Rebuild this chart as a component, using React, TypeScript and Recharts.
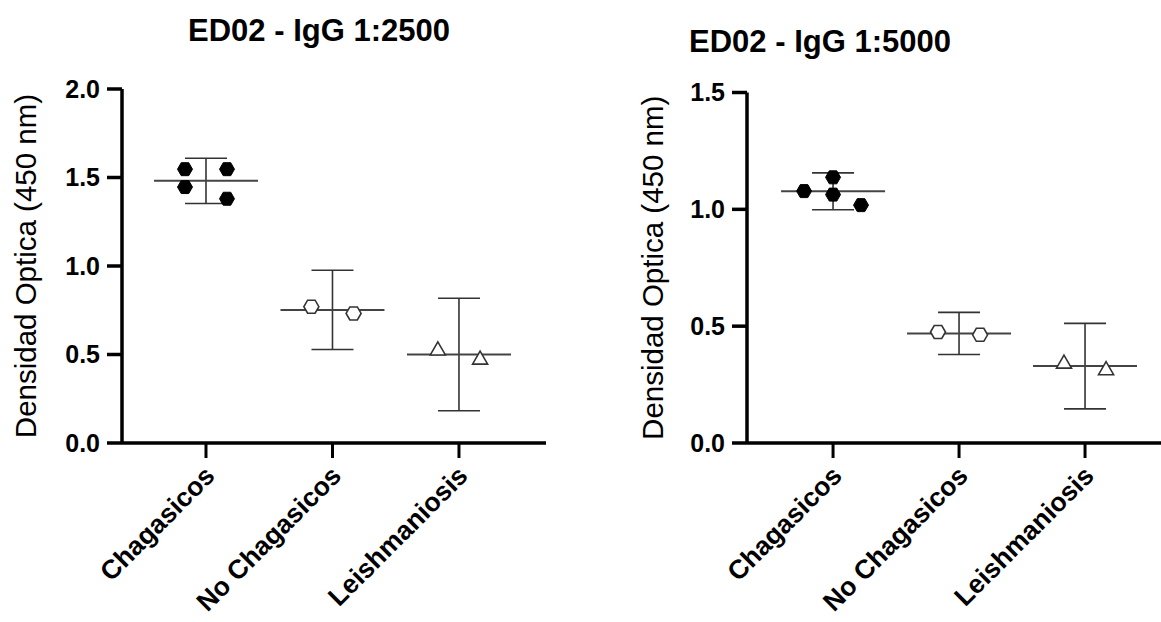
import React from 'react';
import { ScatterChart, Scatter, XAxis, YAxis, ErrorBar } from 'recharts';

const categories = ['Chagasicos', 'No Chagasicos', 'Leishmaniosis'];

// IgG 1:2500
const chagas2500 = [1.547, 1.446, 1.547, 1.38];
const chagas2500Jitter = [-0.166, -0.166, 0.166, 0.166];
const noChagas2500 = [0.77, 0.732];
const leish2500 = [0.522, 0.47];
const means2500 = [1.481, 0.752, 0.5];
const sd2500 = [0.128, 0.224, 0.318];
const ticks2500 = [0, 0.5, 1, 1.5, 2];

// IgG 1:5000
const chagas5000 = [1.078, 1.137, 1.063, 1.018];
const chagas5000Jitter = [-0.23, 0, 0, 0.222];
const noChagas5000 = [0.475, 0.463];
const leish5000 = [0.339, 0.311];
const means5000 = [1.077, 0.469, 0.329];
const sd5000 = [0.079, 0.09, 0.183];
const ticks5000 = [0, 0.5, 1, 1.5];

const pairJitter = [-0.167, 0.167];

const FONT = '"Liberation Sans", Arial, Helvetica, sans-serif';

const toPoints = (values: number[], jitter: number[], idx: number) =>
  values.map((v, i) => ({ x: idx + jitter[i], y: v }));

const hexPath = (cx: number, cy: number, r: number) => {
  const h = r * 0.866;
  return `M${cx - r},${cy} L${cx - r / 2},${cy - h} L${cx + r / 2},${cy - h} L${cx + r},${cy} L${cx + r / 2},${cy + h} L${cx - r / 2},${cy + h} Z`;
};

const FilledHex = (props: any) => <path d={hexPath(props.cx, props.cy, 7.5)} fill="#000" stroke="#000" strokeWidth={1} />;
const OpenHex = (props: any) => <path d={hexPath(props.cx, props.cy, 7.5)} fill="#fff" stroke="#333" strokeWidth={1.6} />;
const OpenTriangle = (props: any) => {
  const { cx, cy } = props;
  const r = 8.7;
  return (
    <path
      d={`M${cx},${cy - r} L${cx + r * 0.866},${cy + r / 2} L${cx - r * 0.866},${cy + r / 2} Z`}
      fill="#fff"
      stroke="#333"
      strokeWidth={1.6}
    />
  );
};
const MeanLine = (props: any) => (
  <line x1={props.cx - 52} x2={props.cx + 52} y1={props.cy} y2={props.cy} stroke="#444" strokeWidth={2} />
);

const CategoryTick = (props: any) => {
  const { x, y, payload } = props;
  return (
    <text
      transform={`translate(${x - 3},${y + 4}) rotate(-45)`}
      textAnchor="end"
      dy="0.71em"
      fontFamily={FONT}
      fontWeight="bold"
      fontSize={26.5}
      fill="#000"
    >
      {categories[payload.value]}
    </text>
  );
};

interface PanelProps {
  title: string;
  width: number;
  yAxisWidth: number;
  top: number;
  right: number;
  xDomain: [number, number];
  yMax: number;
  yTicks: number[];
  chagas: number[];
  chagasJitter: number[];
  noChagas: number[];
  leish: number[];
  means: number[];
  sd: number[];
  titleX: number;
  titleY: number;
  labelX: number;
}

function Panel(p: PanelProps) {
  const summary = p.means.map((m, i) => ({ x: i, y: m, sd: p.sd[i] }));
  return (
    <div style={{ position: 'relative', width: p.width, height: 622 }}>
      <ScatterChart
        width={p.width}
        height={622}
        margin={{ top: p.top, right: p.right, bottom: 0, left: 0 }}
      >
        <XAxis
          type="number"
          dataKey="x"
          domain={p.xDomain}
          ticks={[0, 1, 2]}
          allowDataOverflow
          height={179}
          axisLine={{ stroke: '#000', strokeWidth: 3.5 }}
          tickLine={{ stroke: '#000', strokeWidth: 3 }}
          tickSize={15}
          tick={<CategoryTick />}
          interval={0}
        />
        <YAxis
          type="number"
          dataKey="y"
          domain={[0, p.yMax]}
          ticks={p.yTicks}
          width={p.yAxisWidth}
          axisLine={{ stroke: '#000', strokeWidth: 3.5 }}
          tickLine={{ stroke: '#000', strokeWidth: 3.5 }}
          tickSize={15}
          tickMargin={7}
          tickFormatter={(v: number) => v.toFixed(1)}
          tick={{ fontFamily: FONT, fontWeight: 'bold', fontSize: 25, fill: '#000' }}
          label={{
            value: 'Densidad Optica (450 nm)',
            position: 'insideLeft',
            content: (props: any) => {
              const vb = props.viewBox;
              const cy = vb.y + vb.height / 2;
              return (
                <text
                  x={p.labelX}
                  y={cy}
                  transform={`rotate(-90, ${p.labelX}, ${cy})`}
                  textAnchor="middle"
                  dominantBaseline="central"
                  fontFamily={FONT}
                  fontSize={29.5}
                  fill="#000"
                >
                  Densidad Optica (450 nm)
                </text>
              );
            },
          }}
        />
        <Scatter data={summary} shape={<MeanLine />} isAnimationActive={false}>
          <ErrorBar dataKey="sd" direction="y" width={21} stroke="#333" strokeWidth={1.6} isAnimationActive={false} />
        </Scatter>
        <Scatter data={toPoints(p.chagas, p.chagasJitter, 0)} shape={<FilledHex />} isAnimationActive={false} />
        <Scatter data={toPoints(p.noChagas, pairJitter, 1)} shape={<OpenHex />} isAnimationActive={false} />
        <Scatter data={toPoints(p.leish, pairJitter, 2)} shape={<OpenTriangle />} isAnimationActive={false} />
      </ScatterChart>
      <div
        style={{
          position: 'absolute',
          left: p.titleX - 200,
          top: p.titleY,
          width: 400,
          textAlign: 'center',
          fontFamily: FONT,
          fontWeight: 'bold',
          fontSize: 31,
          lineHeight: '36px',
          color: '#000',
        }}
      >
        {p.title}
      </div>
    </div>
  );
}

export default function App() {
  return (
    <div style={{ position: 'absolute', left: 0, top: 0, width: 1161, height: 622, background: '#fff', overflow: 'hidden' }}>
      <div style={{ position: 'absolute', left: 0, top: 0 }}>
        <Panel
          title="ED02 - IgG 1:2500"
          width={580}
          yAxisWidth={122}
          top={89}
          right={34}
          xDomain={[-0.664, 2.688]}
          yMax={2}
          yTicks={ticks2500}
          chagas={chagas2500}
          chagasJitter={chagas2500Jitter}
          noChagas={noChagas2500}
          leish={leish2500}
          means={means2500}
          sd={sd2500}
          titleX={319}
          titleY={13}
          labelX={25}
        />
      </div>
      <div style={{ position: 'absolute', left: 600, top: 0 }}>
        <Panel
          title="ED02 - IgG 1:5000"
          width={561}
          yAxisWidth={147}
          top={92.5}
          right={0}
          xDomain={[-0.683, 2.603]}
          yMax={1.5}
          yTicks={ticks5000}
          chagas={chagas5000}
          chagasJitter={chagas5000Jitter}
          noChagas={noChagas5000}
          leish={leish5000}
          means={means5000}
          sd={sd5000}
          titleX={220}
          titleY={24}
          labelX={52}
        />
      </div>
    </div>
  );
}
